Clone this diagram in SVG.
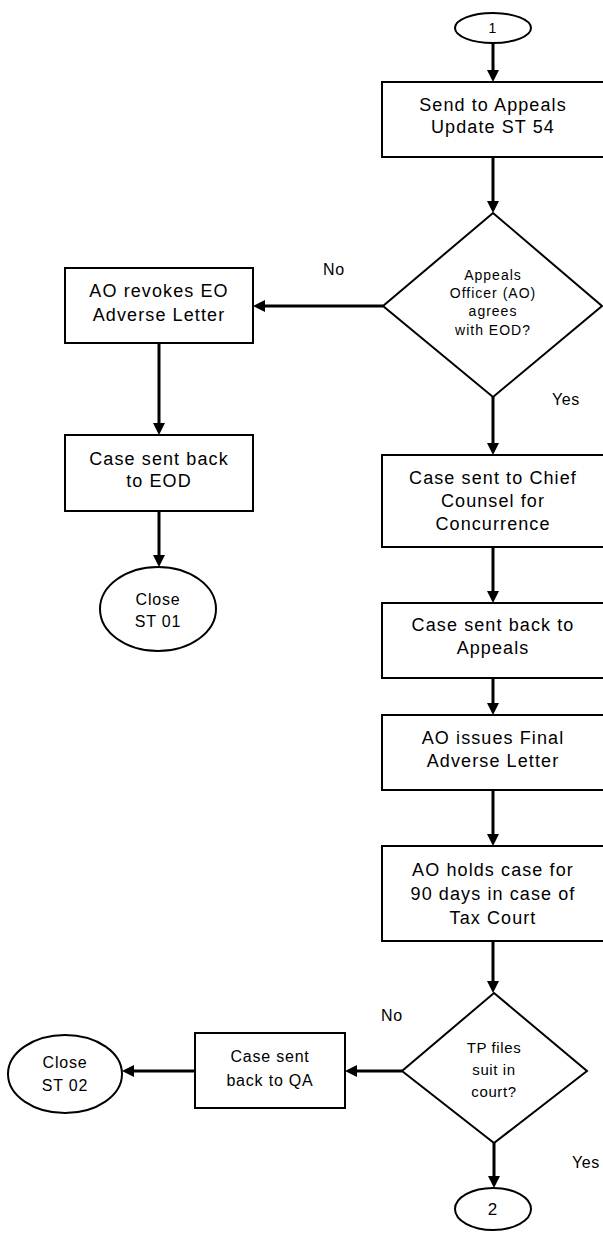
<svg xmlns="http://www.w3.org/2000/svg" width="603" height="1237" viewBox="0 0 603 1237">
<style>
.n{fill:#fff;stroke:#000;stroke-width:2}
.t{font-family:"Liberation Sans",Arial,sans-serif;font-size:18px;letter-spacing:1.1px;text-anchor:middle;fill:#000}
.d{font-size:14px;letter-spacing:1px}
.s{font-size:16px;letter-spacing:0.8px}
.l{font-family:"Liberation Sans",Arial,sans-serif;font-size:16px;letter-spacing:0.6px;fill:#000}
.c{fill:none;stroke:#000;stroke-width:3;marker-end:url(#ah)}
</style>
<defs>
<marker id="ah" viewBox="0 0 12 12" markerWidth="12" markerHeight="12" markerUnits="userSpaceOnUse" refX="2" refY="6" orient="auto">
<path d="M0,0 L12,6 L0,12 z" fill="#000"/>
</marker>
</defs>
<rect width="603" height="1237" fill="#fff"/>
<g id="connectors">
<path class="c" d="M493,43 V72"/>
<path class="c" d="M493,157 V203"/>
<path class="c" d="M383,306 H263"/>
<path class="c" d="M159,343 V425"/>
<path class="c" d="M159,511 V557"/>
<path class="c" d="M493,397 V445"/>
<path class="c" d="M493,547 V593"/>
<path class="c" d="M493,678 V705"/>
<path class="c" d="M493,790 V836"/>
<path class="c" d="M493,941 V983"/>
<path class="c" d="M402,1071 H355"/>
<path class="c" d="M195,1071 H132"/>
<path class="c" d="M494,1143 V1178"/>
</g>
<g id="start1">
<ellipse class="n" cx="493" cy="28" rx="38" ry="15"/>
<text class="t d" x="493" y="33">1</text>
</g>
<g id="send">
<rect class="n" x="382" y="82" width="222" height="75"/>
<text class="t" x="493" y="111">Send to Appeals</text>
<text class="t" x="493" y="133">Update ST 54</text>
</g>
<g id="dec1">
<polygon class="n" points="493,213 602,306 493,397 383,306"/>
<text class="t d" x="493" y="280">Appeals</text>
<text class="t d" x="493" y="298">Officer (AO)</text>
<text class="t d" x="493" y="316">agrees</text>
<text class="t d" x="493" y="335">with EOD?</text>
</g>
<text class="l" x="323" y="275">No</text>
<text class="l" x="552" y="405">Yes</text>
<g id="revoke">
<rect class="n" x="65" y="268" width="188" height="75"/>
<text class="t" x="159" y="297">AO revokes EO</text>
<text class="t" x="159" y="321">Adverse Letter</text>
</g>
<g id="backEOD">
<rect class="n" x="65" y="435" width="188" height="76"/>
<text class="t" x="159" y="465">Case sent back</text>
<text class="t" x="159" y="487">to EOD</text>
</g>
<g id="close1">
<ellipse class="n" cx="158" cy="609" rx="58" ry="42"/>
<text class="t s" x="158" y="605">Close</text>
<text class="t s" x="158" y="627">ST 01</text>
</g>
<g id="chief">
<rect class="n" x="382" y="455" width="222" height="92"/>
<text class="t" x="493" y="484">Case sent to Chief</text>
<text class="t" x="493" y="507">Counsel for</text>
<text class="t" x="493" y="530">Concurrence</text>
</g>
<g id="backAppeals">
<rect class="n" x="382" y="603" width="222" height="75"/>
<text class="t" x="493" y="631">Case sent back to</text>
<text class="t" x="493" y="654">Appeals</text>
</g>
<g id="final">
<rect class="n" x="382" y="715" width="222" height="75"/>
<text class="t" x="493" y="744">AO issues Final</text>
<text class="t" x="493" y="767">Adverse Letter</text>
</g>
<g id="hold">
<rect class="n" x="382" y="846" width="222" height="95"/>
<text class="t" x="493" y="876">AO holds case for</text>
<text class="t" x="493" y="900">90 days in case of</text>
<text class="t" x="493" y="924">Tax Court</text>
</g>
<g id="dec2">
<polygon class="n" points="494,993 587,1071 494,1143 402,1071"/>
<text class="t" style="font-size:15px;letter-spacing:0.6px" x="494" y="1053">TP files</text>
<text class="t" style="font-size:15px;letter-spacing:0.6px" x="494" y="1075">suit in</text>
<text class="t" style="font-size:15px;letter-spacing:0.6px" x="494" y="1097">court?</text>
</g>
<text class="l" x="381" y="1021">No</text>
<text class="l" x="572" y="1168">Yes</text>
<g id="backQA">
<rect class="n" x="195" y="1033" width="150" height="75"/>
<text class="t s" x="270" y="1062">Case sent</text>
<text class="t s" x="270" y="1086">back to QA</text>
</g>
<g id="close2">
<ellipse class="n" cx="65" cy="1074" rx="57" ry="39"/>
<text class="t s" x="65" y="1068">Close</text>
<text class="t s" x="65" y="1091">ST 02</text>
</g>
<g id="end2">
<ellipse class="n" cx="493" cy="1209" rx="38" ry="21"/>
<text class="t" style="font-size:17px" x="493" y="1215">2</text>
</g>
</svg>
